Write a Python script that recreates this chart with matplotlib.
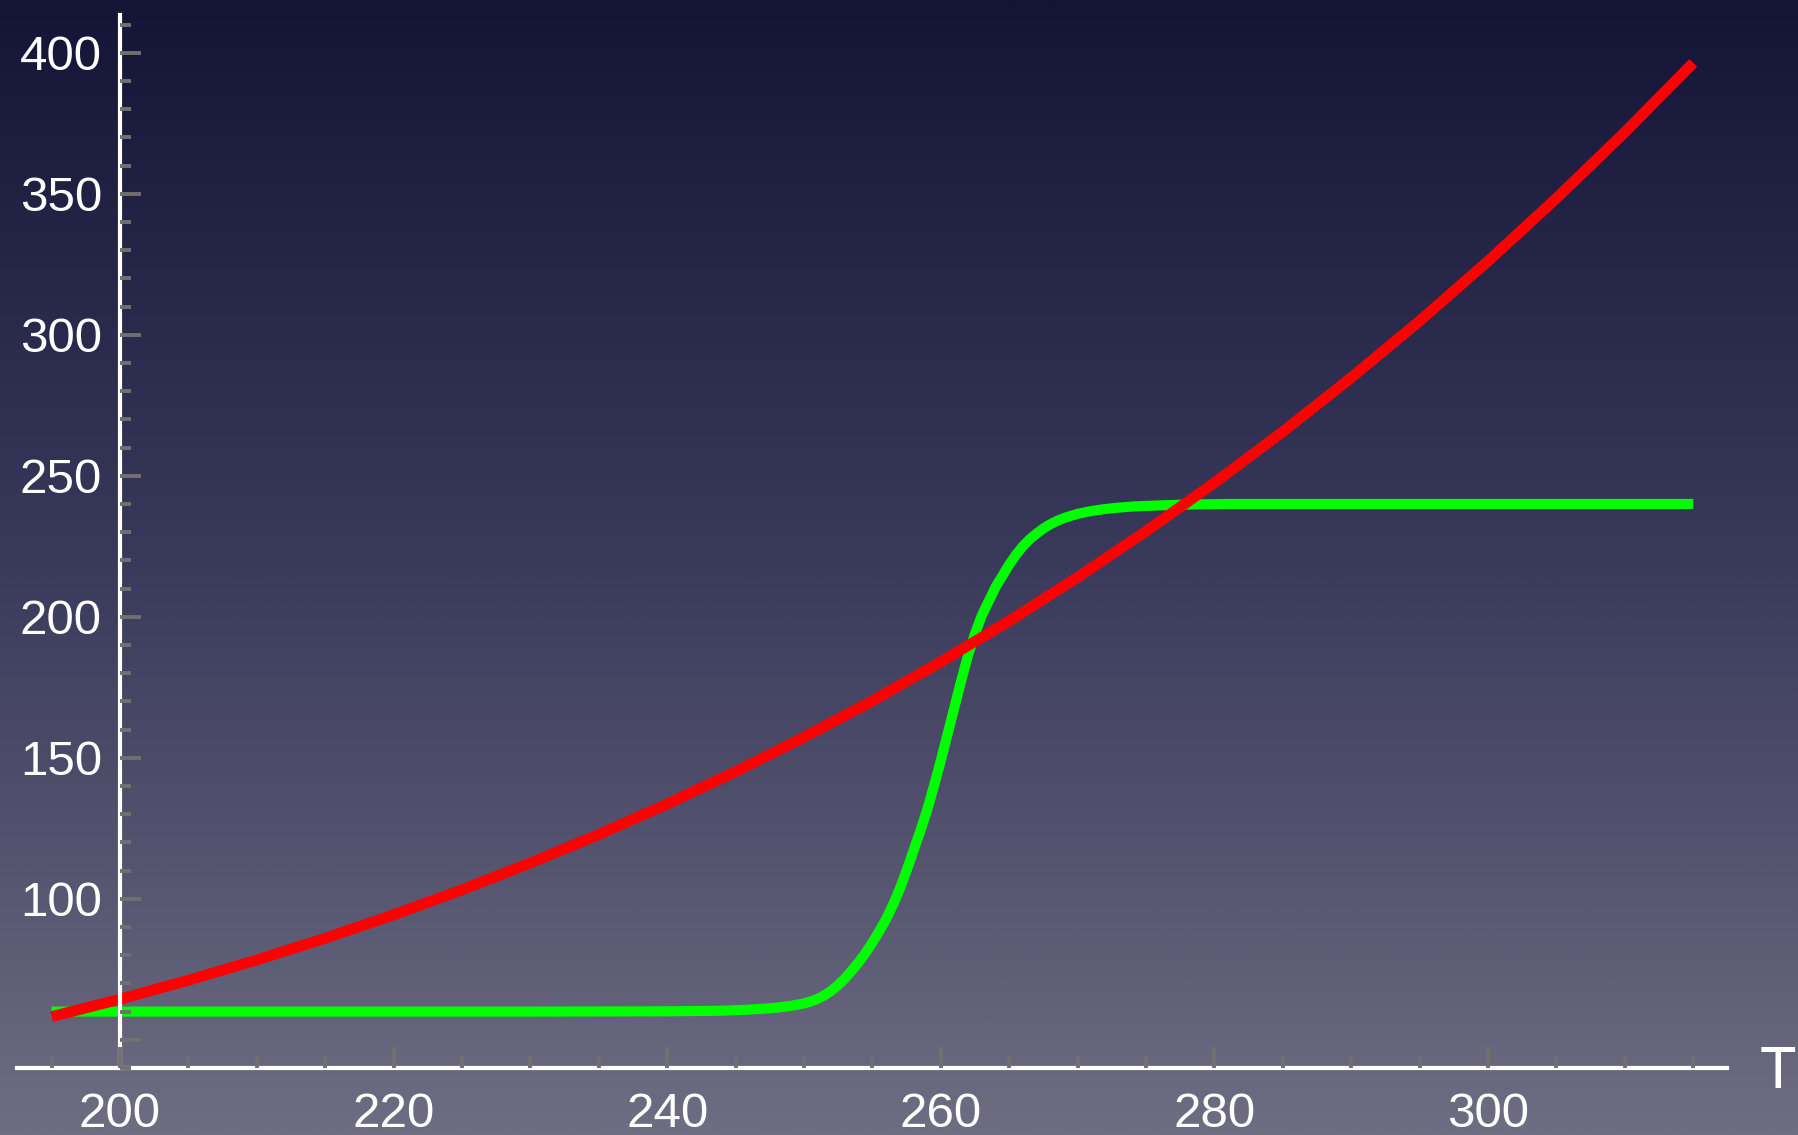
import numpy as np
import matplotlib
matplotlib.use('Agg')
import matplotlib.pyplot as plt
from matplotlib.colors import LinearSegmentedColormap

plt.rcParams['font.family'] = ['Liberation Sans', 'DejaVu Sans']

# red curve, every 5 units of T
T_red = [195, 200, 205, 210, 215, 220, 225, 230, 235, 240, 245, 250, 255,
         260, 265, 270, 275, 280, 285, 290, 295, 300, 305, 310, 315]
red_vals = [58.2, 64.4, 71.1, 78.3, 86.0, 94.3, 103.2, 112.7, 122.8, 133.6,
            145.1, 157.3, 170.2, 184.0, 198.5, 214.0, 230.3, 247.5, 265.6,
            284.8, 304.9, 326.1, 348.4, 371.8, 396.4]

# green step curve, denser where it rises
T_green = [195, 200, 210, 220, 230, 240, 244, 246, 247, 248, 249, 250,
           250.5, 251, 251.5, 252, 252.5, 253, 253.5, 254, 254.5, 255,
           255.5, 256, 256.5, 257, 257.5, 258, 258.5, 259, 259.5, 260,
           260.5, 261, 261.5, 262, 262.5, 263, 263.5, 264, 264.5, 265,
           265.5, 266, 266.5, 267, 267.5, 268, 268.5, 269, 270, 271, 272,
           273, 274, 276, 278, 281, 290, 300, 315]
green_vals = [60, 60, 60, 60, 60, 60.1, 60.3, 60.7, 61.0, 61.4, 62.0, 62.9,
              63.6, 64.5, 65.8, 67.4, 69.4, 71.8, 74.6, 77.5, 80.8, 84.5,
              88.5, 92.8, 97.8, 103.5, 110, 117, 124, 131.5, 140, 149,
              158.5, 168, 177.5, 186.5, 194, 200.5, 205.5, 210.5, 214.5,
              218.5, 222, 225, 227.5, 229.5, 231.3, 232.8, 234, 235, 236.5,
              237.5, 238.2, 238.7, 239.1, 239.5, 239.8, 240, 240, 240, 240]

x_major = [200, 220, 240, 260, 280, 300]
x_minor = list(range(195, 316, 5))
y_major = [50, 100, 150, 200, 250, 300, 350, 400]
y_labels = ['', '100', '150', '200', '250', '300', '350', '400']
y_minor = list(range(40, 411, 10))

fig = plt.figure(figsize=(17.99, 11.35), dpi=100)

# background gradient
bg = fig.add_axes([0, 0, 1, 1])
bg.axis('off')
cmap = LinearSegmentedColormap.from_list(
    'bg', ['#141436', '#3a3a5c', '#6e6d82'])
grad = np.linspace(0, 1, 512)[:, None]
bg.imshow(grad, aspect='auto', cmap=cmap, extent=[0, 1, 0, 1])

ax = fig.add_axes([0, 0, 1, 1])
ax.patch.set_alpha(0)
ax.set_xlim(191.23, 322.73)
ax.set_ylim(16.24, 418.7)

ax.plot(T_green, green_vals, color='#00ff00', lw=7.3, solid_capstyle='butt',
        solid_joinstyle='round')
ax.plot(T_red, red_vals, color='#ff0000', lw=7.8, solid_capstyle='butt',
        solid_joinstyle='round')

for s in ['top', 'right']:
    ax.spines[s].set_visible(False)
ax.spines['left'].set_position(('data', 200))
ax.spines['left'].set_bounds(40, 413.4)
ax.spines['bottom'].set_position(('data', 40))
ax.spines['bottom'].set_bounds(192.5, 317.5)
for s in ['left', 'bottom']:
    ax.spines[s].set_color('white')
    ax.spines[s].set_linewidth(3)

ax.set_axisbelow(False)
ax.set_xticks(x_major)
ax.set_xticks(x_minor, minor=True)
ax.set_yticks(y_major)
ax.set_yticklabels(y_labels)
ax.set_yticks(y_minor, minor=True)

ax.tick_params(which='both', direction='in', color='#707070', width=2.8,
               labelcolor='white', labelsize=35.5)
ax.tick_params(which='major', length=15)
ax.tick_params(which='minor', length=8)
ax.tick_params(axis='y', pad=13)
ax.tick_params(axis='x', pad=17)

fig.text(1760 / 1799, 1 - 1088 / 1135, 'T', color='white', fontsize=43,
         ha='left', va='baseline')

fig.savefig('out.png', dpi=100)
